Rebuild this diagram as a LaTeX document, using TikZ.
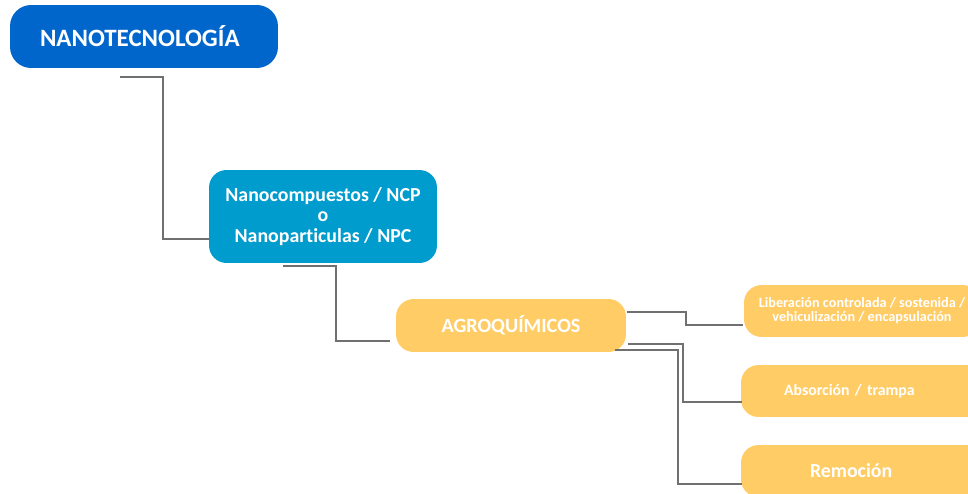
\documentclass[tikz,border=0pt]{standalone}
\usepackage{fontspec}
\setmainfont[Ligatures=NoCommon]{Carlito}
\usetikzlibrary{positioning,calc}
\definecolor{azul-nano}{RGB}{0,102,204}
\definecolor{azul-ncp}{RGB}{0,156,206}
\definecolor{ocre-agro}{RGB}{255,204,102}
\definecolor{gris-linea}{RGB}{112,112,112}

\tikzset{
  caja/.style={rounded corners=10pt, text=white, font=\bfseries, align=center, inner sep=0pt},
  conn/.style={draw=gris-linea, line width=1.6pt}
}

\begin{document}
\begin{tikzpicture}[x=0.02cm, y=-0.02cm]
	  \clip (0,0) rectangle (968,494);
	  % cajas
	  \node[caja, fill=azul-nano, rounded corners=12pt, align=left, text width=4.16cm, inner xsep=0.6cm,
	        minimum height=1.26cm, font=\bfseries\fontsize{14.2}{16}\selectfont] (nano) at (144,36.5) {NANOTECNOLOGÍA};
	  \node[caja, fill=azul-ncp, minimum width=4.56cm, minimum height=1.86cm,
	        font=\bfseries\fontsize{11.3}{11.5}\selectfont] (ncp) at (323,216.5) {Nanocompuestos / NCP\\o\\Nanoparticulas / NPC};
	  \node[caja, fill=ocre-agro, minimum width=4.6cm, minimum height=1.06cm,
	        font=\bfseries\fontsize{11.5}{13}\selectfont] (agro) at (511,325.5) {AGROQUÍMICOS};
	  \node[caja, fill=ocre-agro, minimum width=4.72cm, minimum height=1.04cm,
	        font=\bfseries\fontsize{8.1}{8}\selectfont] (lib) at (862,311) {Liberación controlada / sostenida /\\vehiculización / encapsulación};
	  \node[caja, fill=ocre-agro, align=left, text width=3.26cm, inner xsep=0.86cm, minimum height=1.04cm,
	        font=\bfseries\fontsize{9}{10}\selectfont] (abs) at (865.5,391) {\mbox{Absorción / trampa}};
	  \node[caja, fill=ocre-agro, align=left, text width=2.22cm, inner xsep=1.38cm, minimum height=1.04cm,
	        font=\bfseries\fontsize{11.3}{12}\selectfont] (rem) at (865.5,471) {Remoción};
	  % extremos de los conectores
	  \coordinate (s1) at (120,77);   \coordinate (e1) at (210,239);
	  \coordinate (s2) at (283,266);  \coordinate (e2) at (390,341);
	  \coordinate (s3) at (627,312);  \coordinate (e3) at (743,325);
	  \coordinate (s4) at (628,344);  \coordinate (e4) at (742,402);
	  \coordinate (s5) at (615,350);  \coordinate (e5) at (742,484);
	  % conectores
	  \draw[conn] (s1) -- ++(43,0) |- (e1);
	  \draw[conn] (s2) -- ++(53,0) |- (e2);
	  \draw[conn] (s3) -- ++(59,0) |- (e3);
	  \draw[conn] (s4) -- ++(55,0) |- (e4);
	  \draw[conn] (s5) -- ++(63,0) |- (e5);
	\end{tikzpicture}
\end{document}
